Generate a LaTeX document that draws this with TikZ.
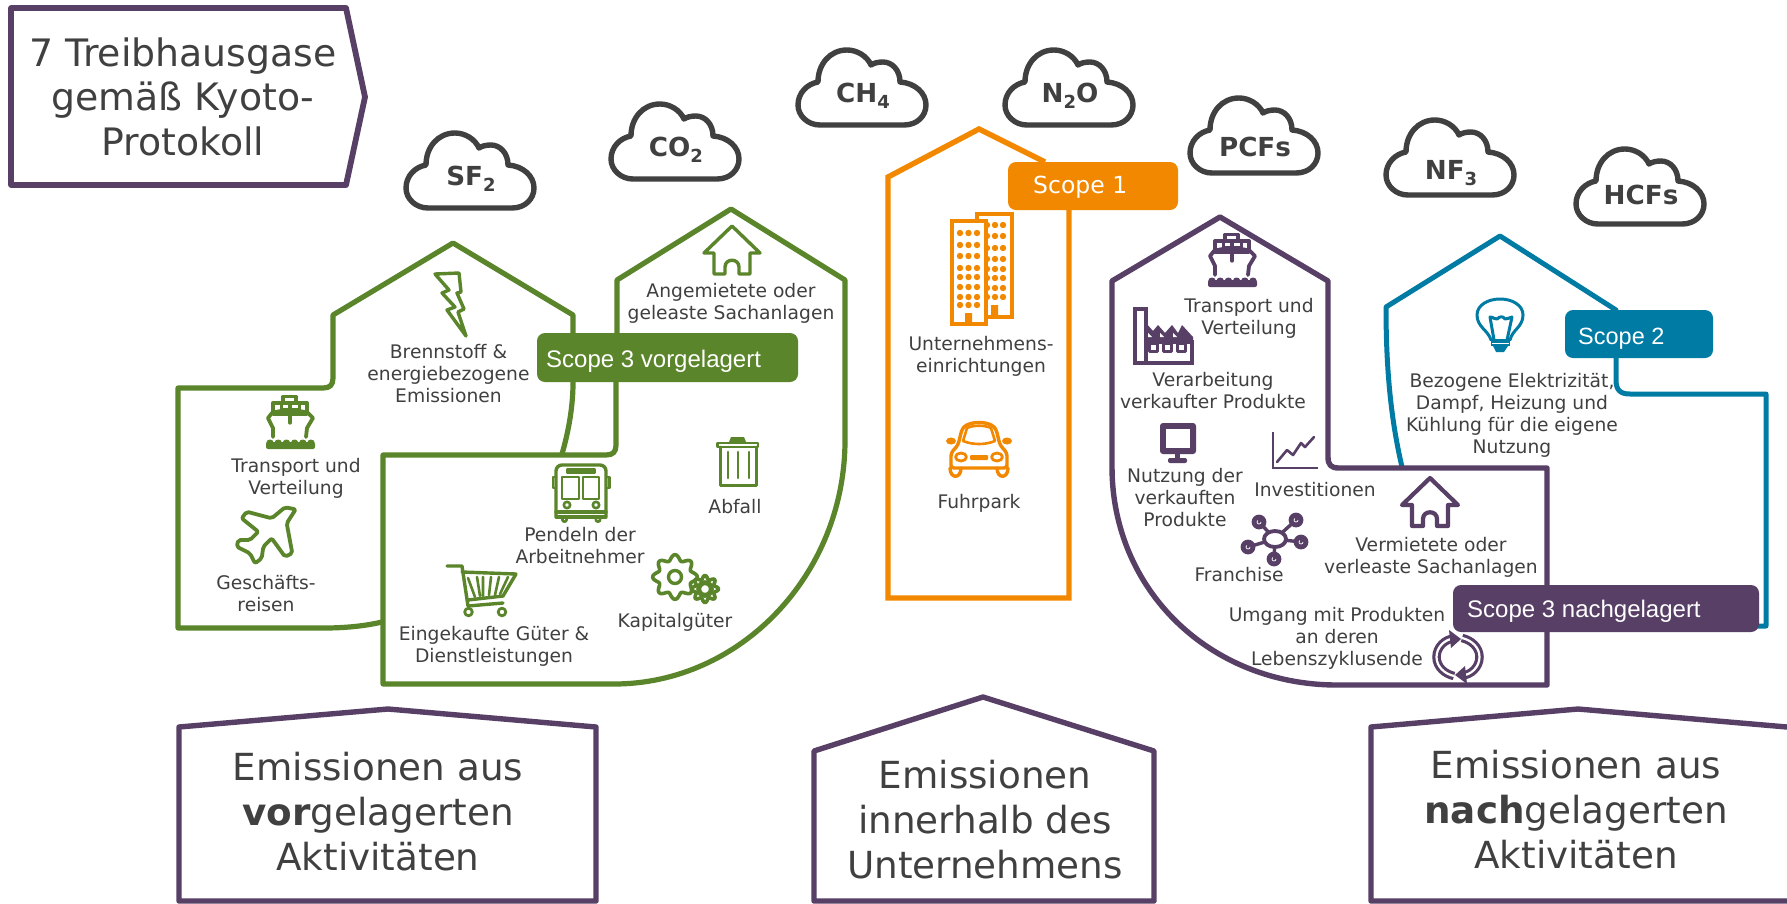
\documentclass[tikz,border=0pt]{standalone}
\usepackage{fontspec}
\setmainfont{DejaVu Sans}
\newfontfamily\arialf{Liberation Sans}
\definecolor{cgreen}{HTML}{5B852B}
\definecolor{corange}{HTML}{F28800}
\definecolor{cblue}{HTML}{007BA4}
\definecolor{cpurple}{HTML}{573F66}
\definecolor{ctext}{HTML}{404040}
\newcommand{\ml}[1]{\begin{tabular}[t]{@{}c@{}}#1\end{tabular}}
\newcommand{\sbs}[1]{\raisebox{-0.25em}{\fontsize{18}{18}\selectfont #1}}
\tikzset{
  lbl/.style={anchor=base,inner sep=0pt,text=ctext,font=\fontsize{18.7}{22.3}\selectfont},
  bigl/.style={anchor=base,inner sep=0pt,text=ctext,font=\fontsize{37.3}{45}\selectfont},
  headl/.style={anchor=base,inner sep=0pt,text=ctext,font=\fontsize{37.8}{44.5}\selectfont},
  gasl/.style={anchor=base,inner sep=0pt,text=ctext,font=\bfseries\fontsize{26.2}{28}\selectfont},
  scopebox/.style={draw=none,fill=#1,rounded corners=8pt},
  scopel/.style={anchor=base west,inner sep=0pt,text=white},
  outl/.style={draw=#1,line width=5.2pt,line join=round,line cap=round},
  frame/.style={draw=cpurple,line width=5.4pt,line join=round,fill=white},
  ico/.style={draw=#1,line width=3.4pt,line join=round,line cap=round},
}
\newcommand{\mycloud}[4]{%
  \begin{scope}[shift={(#1,#2)}]
  \draw[draw=ctext,line width=5.4pt,line join=round]
    (23,76) -- (107,76) .. controls (120,76) and (129,67) .. (129,56)
    .. controls (129,44) and (118,34) .. (103,33)
    .. controls (103,21) and (95,13) .. (86,13)
    .. controls (81,13) and (77,14) .. (74,16)
    .. controls (70,7) and (60,1) .. (50,1)
    .. controls (33,1) and (21,15) .. (21,33)
    .. controls (10,35) and (1,44) .. (1,56)
    .. controls (1,67) and (11,76) .. (23,76) -- cycle;
  \node[gasl] (gas#1) at (66,#3) {#4};
  \end{scope}}
\newcommand{\myship}[3]{%
  \begin{scope}[shift={(#1,#2)}]
  \draw[ico=#3,line width=3.8pt] (7,42) -- (7,33) -- (2,23) -- (6,18) .. controls (12,15) and (36,15) .. (42,18) -- (47,23) -- (41,33) -- (40,42);
  \draw[ico=#3,line width=3.4pt] (7,8) rectangle (41,19);
  \draw[ico=#3,line width=3.4pt] (17,1.5) rectangle (30,8);
  \draw[ico=#3,line width=3.2pt] (24,8) -- (24,28);
  \draw[ico=#3,line width=3pt] (15,8) -- (15,19) (33,8) -- (33,19) (15,14) -- (33,14);
  \fill[#3,rounded corners=2pt] (0,47) rectangle (49,54);
  \foreach \i in {0,...,5} \fill[#3] (4+\i*8.2,47.5) ellipse (3.6 and 3);
  \end{scope}}
\newcommand{\myhouse}[4]{%
  \begin{scope}[shift={(#1,#2)}]
  \draw[ico=#3,line width=#4]
    (-18,48) -- (-18,27) -- (-28,27) -- (0,0) -- (28,27) -- (18,27) -- (18,48) -- (7,48) -- (7,41)
    .. controls (7,32) and (-7,32) .. (-7,41) -- (-7,48) -- cycle;
  \end{scope}}
\newcommand{\mygear}[5]{%
  \filldraw[draw=cgreen,fill=white,line width=#5,line join=round]
    plot[domain=0:360,samples=121,smooth] ({#1+(#3+#4*cos(8*\x))*cos(\x)},{#2+(#3+#4*cos(8*\x))*sin(\x)}) -- cycle;}
\begin{document}
\begin{tikzpicture}[x=1pt,y=-1pt]
\useasboundingbox (0,0) rectangle (1787,903);
\clip (0,0) rectangle (1787,903);
\fill[white] (0,0) rectangle (1787,903);

% headline pentagon
\draw[frame,line width=5.8pt] (11,8) -- (346,8) -- (365,97) -- (346,185) -- (11,185) -- cycle;
\node[headl] (head) at (183,66) {\ml{7 Treibhausgase\\gemäß Kyoto-\\Protokoll}};

% clouds
\mycloud{405}{132}{53}{SF\sbs{2}}
\mycloud{610}{103}{53}{CO\sbs{2}}
\mycloud{797}{49}{53}{CH\sbs{4}}
\mycloud{1004}{49}{53}{N\sbs{2}O}
\mycloud{1189}{97}{59}{PCFs}
\mycloud{1385}{119}{60}{NF\sbs{3}}
\mycloud{1575}{148}{56}{HCFs}

% upstream shapes
\draw[outl=cgreen] (382,622) .. controls (365,626) and (345,628) .. (324,628) -- (178,628) -- (178,388) -- (323,388)
  .. controls (330,388) and (333,385) .. (333,378) -- (333,315) -- (453,243) -- (573,315) -- (573,383)
  .. controls (573,405) and (569,430) .. (562,454);
\draw[outl=cgreen] (616,335) -- (616,445) .. controls (616,452) and (613,455) .. (606,455) -- (383,455) -- (383,684) -- (614,684)
  .. controls (740,684) and (845,575) .. (845,440) -- (845,280) -- (731,209) -- (617,280) -- (617,335);
\draw[scopebox=cgreen] (537,333) rectangle (798,382);
\node[scopel,font=\arialf\fontsize{24}{28}\selectfont] (s3v) at (546,367) {Scope 3 vorgelagert};

% central shape
\draw[outl=corange,line width=5.4pt,line cap=butt,line join=miter] (1045,162) -- (979,129) -- (888,177) -- (888,598) -- (1069,598) -- (1069,210);
\draw[scopebox=corange] (1008,162) rectangle (1178,210);
\node[scopel,font=\fontsize{23.5}{28}\selectfont] (s1) at (1033,193) {Scope 1};

% blue shape
\draw[outl=cblue,line width=5pt] (1402,467) .. controls (1391,420) and (1386,370) .. (1386,307) -- (1500,236) -- (1616,310);
\draw[outl=cblue,line width=5pt] (1616,358) -- (1616,380) .. controls (1616,390) and (1620,394) .. (1630,394) -- (1766,394) -- (1766,626) -- (1755,626);
\draw[scopebox=cblue] (1565,310) rectangle (1713,358);
\node[scopel,font=\arialf\fontsize{23.5}{28}\selectfont] (s2) at (1578,344) {Scope 2};

% purple downstream shape
\draw[outl=cpurple,line width=5.4pt] (1547,600) -- (1547,468) -- (1339,468) .. controls (1331,468) and (1328,465) .. (1328,457) -- (1328,281) -- (1220,217) -- (1112,281) -- (1112,467)
  .. controls (1112,590) and (1210,685) .. (1337,685) -- (1547,685) -- (1547,620);
\draw[scopebox=cpurple] (1453,585) rectangle (1759,632);
\node[scopel,font=\arialf\fontsize{24}{28}\selectfont] (s3n) at (1467,617) {Scope 3 nachgelagert};

% bottom boxes
\draw[frame] (179,901) -- (179,727) -- (388,709) -- (596,727) -- (596,901) -- cycle;
\draw[frame] (814,901) -- (814,751) -- (983,697) -- (1154,751) -- (1154,901) -- cycle;
\draw[frame] (1371,901) -- (1371,727) -- (1578,709) -- (1787,727) -- (1795,727) -- (1795,901) -- cycle;
\node[bigl] (bl) at (378,780) {\ml{Emissionen aus\\\textbf{vor}gelagerten\\Aktivitäten}};
\node[bigl] (bm) at (985,788) {\ml{Emissionen\\innerhalb des\\Unternehmens}};
\node[bigl] (br) at (1576,778) {\ml{Emissionen aus\\\textbf{nach}gelagerten\\Aktivitäten}};

% labels: upstream
\node[lbl] (t1) at (448.5,358) {\ml{Brennstoff \&\\energiebezogene\\Emissionen}};
\node[lbl] (t2) at (296,472) {\ml{Transport und\\Verteilung}};
\node[lbl] (t3) at (266,589) {\ml{Geschäfts-\\reisen}};
\node[lbl] (t4) at (580,541) {\ml{Pendeln der\\Arbeitnehmer}};
\node[lbl] (t5) at (735,513) {Abfall};
\node[lbl] (t6) at (675,627) {Kapitalgüter};
\node[lbl] (t7) at (494,640) {\ml{Eingekaufte Güter \&\\Dienstleistungen}};
\node[lbl] (t8) at (731,297) {\ml{Angemietete oder\\geleaste Sachanlagen}};
% labels: centre
\node[lbl] (t9) at (981,350) {\ml{Unternehmens-\\einrichtungen}};
\node[lbl] (t10) at (979,508) {Fuhrpark};
% labels: downstream
\node[lbl] (t11) at (1249,312) {\ml{Transport und\\Verteilung}};
\node[lbl] (t12) at (1213,386) {\ml{Verarbeitung\\verkaufter Produkte}};
\node[lbl] (t13) at (1185,482) {\ml{Nutzung der\\verkauften\\Produkte}};
\node[lbl] (t14) at (1315,496) {Investitionen};
\node[lbl] (t15) at (1239,581) {Franchise};
\node[lbl] (t16) at (1431,551) {\ml{Vermietete oder\\verleaste Sachanlagen}};
\node[lbl] (t17) at (1337,621) {\ml{Umgang mit Produkten\\an deren\\Lebenszyklusende}};
\node[lbl] (t18) at (1512,387) {\ml{Bezogene Elektrizität,\\Dampf, Heizung und\\Kühlung für die eigene\\Nutzung}};

% icons: green
\draw[ico=cgreen] (435,274) -- (459,273) -- (461,292) -- (457,293) -- (464,309) -- (458,312) -- (466,336) -- (447,310) -- (455,307) -- (442,293) -- (449,290) -- cycle;
\myship{266}{395}{cgreen}
\draw[ico=cgreen,rounded corners=2pt,line width=3.8pt] (295.7,509.3) -- (286.7,523.3) -- (292.3,553.3) -- (285,556.7) -- (271.7,538.3) -- (263.3,546.7) -- (261.7,558.3) -- (255,563.3) -- (250,553.3) -- (236.7,546.7) -- (238.3,540) -- (250,540) -- (258.3,531.7) -- (241.7,518.3) -- (246.7,511.7) -- (271.7,518.3) -- (285,507.3) -- cycle;
\myhouse{732}{226}{cgreen}{3.4pt}
% bus
\draw[ico=cgreen,rounded corners=6pt] (556,516) -- (556,465) -- (606,465) -- (606,516);
\draw[ico=cgreen] (556,512) -- (606,512) (556,517) -- (606,517);
\draw[ico=cgreen,line width=2.2pt] (553,477) rectangle (556,488) (606,477) rectangle (609.5,488);
\draw[ico=cgreen,line width=2.2pt] (567,469.5) rectangle (595,472.5);
\draw[ico=cgreen,line width=2.8pt] (562,477) rectangle (579,499) (583,477) rectangle (599,499);
\draw[ico=cgreen,line width=2.6pt] (567,505) circle (3.2) (596,505) circle (3.2) (564.5,519.5) circle (2.2) (598,519.5) circle (2.2);
% cart
\draw[ico=cgreen] (447,566) -- (462,566) -- (468,606) -- (503,603);
\draw[ico=cgreen] (462,572) -- (516,574) -- (503,596) -- (468,600);
\draw[ico=cgreen,line width=2.6pt] (468,578) -- (475,597) (477,577) -- (480,596) (483,577) -- (483,596) (491,577) -- (489,595) (499,577) -- (495,595) (508,577) -- (500,594);
\draw[ico=cgreen,line width=2.8pt] (468.5,612) circle (3.8) (502,612) circle (3.8);
% gears
\mygear{675}{577}{19.5}{2.8}{3.6pt}
\draw[ico=cgreen] (675,577) circle (6.5);
\mygear{705}{589}{11.5}{2}{3.6pt}
\draw[cgreen,line width=5pt] (705,589) circle (6.3);
% trash
\draw[ico=cgreen,line width=2.8pt] (717.5,443) -- (758,443) -- (758,447) -- (717.5,447) -- cycle;
\fill[cgreen] (729,442) -- (731,437) -- (744,437) -- (746,442) -- cycle;
\draw[ico=cgreen,line width=3pt] (720,447) -- (720,485) -- (756,485) -- (756,447);
\draw[ico=cgreen,line width=2.6pt] (728,452) -- (728,478) (738,452) -- (738,478) (749,452) -- (749,478);

% icons: orange
\draw[ico=corange,line width=3.6pt,fill=white,line join=miter] (977,221) -- (977,214) -- (1012,214) -- (1012,317) -- (986,317);
\draw[ico=corange,line width=3.6pt,fill=white,line join=miter] (952,221) rectangle (986,324);
\foreach \xx in {960,968.5,977}
  \foreach \yy in {233,245,256,268,277,287,297,305} \fill[corange] (\xx,\yy) circle (3.2);
\foreach \xx in {987,995,1003}
  \foreach \yy in {225,236,248,259,269,278,288,297} \fill[corange] (\xx,\yy) circle (3.2);
\fill[corange] (965,313) rectangle (972,324) (991,305) rectangle (998,317);
\draw[ico=corange,rounded corners=3pt] (951,468) -- (951,453) -- (958,445) -- (962,429) .. controls (970,421) and (988,421) .. (996,429) -- (1000,445) -- (1007,453) -- (1007,468) -- cycle;
\draw[ico=corange,line width=2.6pt] (963,441) -- (967,428) .. controls (973,425) and (985,425) .. (991,428) -- (995,441) .. controls (985,445) and (973,445) .. cycle;
\draw[ico=corange,line width=2.8pt] (961,457) ellipse (5.5 and 4) (997,457) ellipse (5.5 and 4);
\fill[corange,rounded corners=1pt] (970,455) rectangle (988,460);
\fill[corange] (951,441) ellipse (5 and 3.5) (1007,441) ellipse (5 and 3.5);
\draw[ico=corange,line width=3.4pt] (950,468) .. controls (950,479) and (961,479) .. (961,468) (997,468) .. controls (997,479) and (1008,479) .. (1008,468);

% icons: purple
\myship{1208}{233}{cpurple}
% factory
\draw[ico=cpurple,line join=miter] (1135,309) rectangle (1146,363);
\fill[cpurple] (1146,323) -- (1153,331) -- (1158,325) -- (1165,333) -- (1172,325) -- (1178,333) -- (1182,325) -- (1193,337) -- (1193,342) -- (1146,342) -- cycle;
\draw[ico=cpurple,line join=miter] (1146,342) rectangle (1192,363);
\fill[white] (1148,333) -- (1152,337) -- (1148,337) -- cycle (1160,333) -- (1164,337) -- (1160,337) -- cycle (1173,333) -- (1177,337) -- (1173,337) -- cycle;
\foreach \xx in {1153,1167,1181} \draw[ico=cpurple,line width=3pt] (\xx-4,343) rectangle (\xx+4,351);
% monitor
\fill[cpurple,rounded corners=3pt] (1160,423) rectangle (1196,454);
\fill[white] (1166,429) rectangle (1190,448);
\fill[cpurple] (1175,454) rectangle (1180,459);
\fill[cpurple,rounded corners=2pt] (1168,458) rectangle (1187,463);
% chart
\draw[ico=cpurple,line width=2.6pt,line cap=butt,line join=miter] (1273,432) -- (1273,468) -- (1318,468);
\draw[ico=cpurple,line width=2.6pt] (1277,462) -- (1287,450) -- (1293,455) -- (1301,443) -- (1305,447) -- (1314,437);
% network
\draw[ico=cpurple] (1275,539) -- (1259,522) (1275,539) -- (1296,520) (1275,539) -- (1301,542) (1275,539) -- (1248,547) (1275,539) -- (1274,559);
\filldraw[ico=cpurple,fill=white,line width=3.8pt] (1275,539) ellipse (11 and 8);
\foreach \xx/\yy in {1259/522,1296/520,1301/542,1248/547,1274/559} {\fill[cpurple] (\xx,\yy) circle (7.4); \draw[white,line width=.7pt] (\xx+2,\yy) arc (0:230:2);}
\myhouse{1430}{478}{cpurple}{4.2pt}
% recycle
\begin{scope}[shift={(1458,657)}]
\draw[cpurple,line width=8.5pt] (-4,-18.5) .. controls (-13,-18) and (-21.5,-10) .. (-21.5,0) .. controls (-21.5,10) and (-13,17) .. (-4,19);
\draw[white,line width=2.2pt] (-4,-18.5) .. controls (-13,-18) and (-21.5,-10) .. (-21.5,0) .. controls (-21.5,10) and (-13,17) .. (-4,19);
\draw[cpurple,line width=8.5pt] (4,-19) .. controls (13,-17) and (21.5,-10) .. (21.5,0) .. controls (21.5,10) and (13,18) .. (4,18.5);
\draw[white,line width=2.2pt] (4,-19) .. controls (13,-17) and (21.5,-10) .. (21.5,0) .. controls (21.5,10) and (13,18) .. (4,18.5);
\fill[cpurple] (-9,-27) -- (3,-18) -- (-7,-9) -- cycle (9,27) -- (-3,18) -- (7,9) -- cycle;
\end{scope}

% icons: blue bulb
\draw[ico=cblue,line width=3pt] (1491,340) .. controls (1488,330) and (1477,327) .. (1477,315) .. controls (1477,305) and (1488,299) .. (1500,299) .. controls (1512,299) and (1523,305) .. (1523,315) .. controls (1523,327) and (1512,330) .. (1510,340);
\draw[ico=cblue,line width=3pt] (1494,340) -- (1490,317) .. controls (1494,317) and (1495,320) .. (1497,319) .. controls (1500,316) and (1503,316) .. (1505,319) .. controls (1507,320) and (1509,317) .. (1512,317) -- (1507,340);
\fill[cblue] (1491,339) rectangle (1510,346);
\fill[cblue] (1493,346) -- (1508,346) -- (1504,352) -- (1496,352) -- cycle;
\draw[white,line width=.8pt] (1492,343) -- (1509,343);
\end{tikzpicture}
\end{document}
